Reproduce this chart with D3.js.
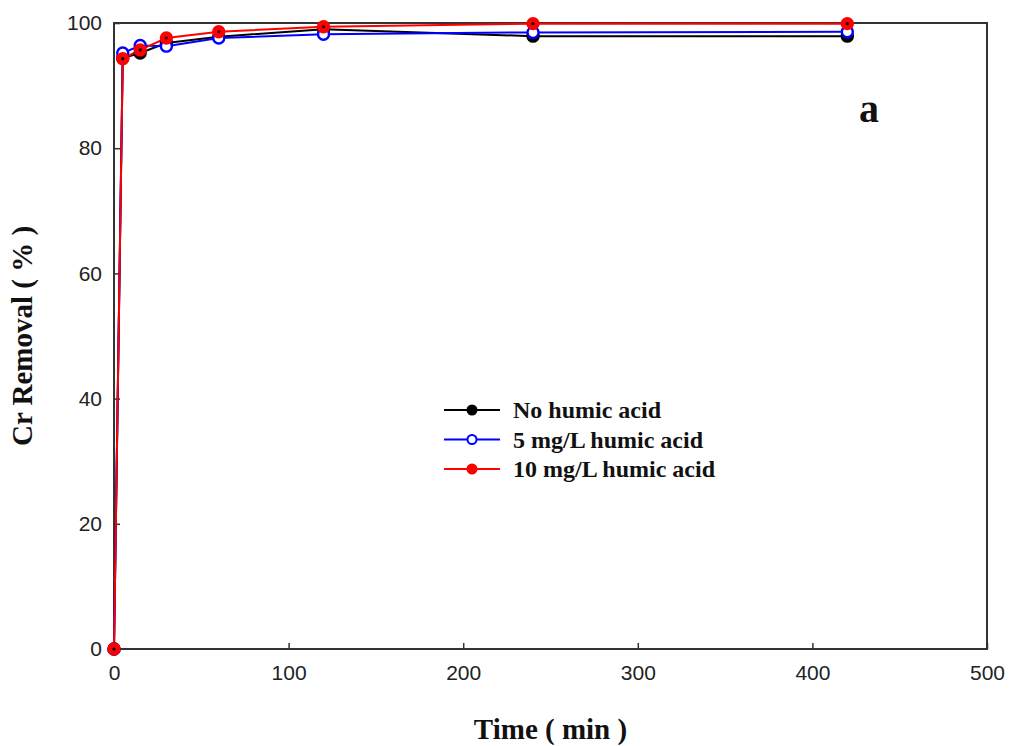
<!DOCTYPE html>
<html>
<head>
<meta charset="utf-8">
<script src="https://cdn.jsdelivr.net/npm/d3@7"></script>
<style>
  body { margin: 0; background: #fff; }
  svg { display: block; }
</style>
</head>
<body>
<div id="chart"></div>
<script>
// sampling times (min)
const times = [0, 5, 15, 30, 60, 120, 240, 420];
// Cr removal (%)
const noHumic = [0, 94.4, 95.2, 96.8, 97.8, 99.0, 97.9, 97.9];
const humic5 = [0, 95.2, 96.4, 96.3, 97.6, 98.2, 98.5, 98.6];
const humic10 = [0, 94.3, 95.7, 97.6, 98.6, 99.4, 99.9, 99.9];
const seriesNames = ['No humic acid', '5 mg/L humic acid', '10 mg/L humic acid'];
const xTicks = [0, 100, 200, 300, 400, 500];
const yTicks = [0, 20, 40, 60, 80, 100];

const W = 1011, H = 746;
const margin = {top: 23, right: 24, bottom: 97, left: 114};
const serif = 'Liberation Serif, Times New Roman, serif';

const svg = d3.select('#chart').append('svg')
    .attr('width', W)
    .attr('height', H);

const x = d3.scaleLinear().domain([0, 500]).range([margin.left, W - margin.right]);
const y = d3.scaleLinear().domain([0, 100]).range([H - margin.bottom, margin.top]);

const series = [
    {name: seriesNames[0], values: noHumic, color: '#000', fill: '#000'},
    {name: seriesNames[1], values: humic5, color: '#0000ff', fill: '#fff'},
    {name: seriesNames[2], values: humic10, color: '#ff0000', fill: '#ff0000'}
];

// axes, ticks pointing inward
svg.append('g')
    .attr('transform', 'translate(0,' + y(0) + ')')
    .call(d3.axisBottom(x).tickValues(xTicks).tickSize(-6).tickPadding(16))
    .call(g => g.select('.domain').remove());
svg.append('g')
    .attr('transform', 'translate(' + x(0) + ',0)')
    .call(d3.axisLeft(y).tickValues(yTicks).tickSize(-6).tickPadding(12))
    .call(g => g.select('.domain').remove());

svg.selectAll('.tick text')
    .attr('font-family', 'Liberation Sans, Arial, sans-serif')
    .attr('font-size', 21)
    .attr('fill', '#222');
svg.selectAll('.tick line')
    .attr('stroke', '#333')
    .attr('stroke-width', 1.5);

// frame
svg.append('rect')
    .attr('x', x(0))
    .attr('y', y(100))
    .attr('width', x(500) - x(0))
    .attr('height', y(0) - y(100))
    .attr('fill', 'none')
    .attr('stroke', '#333')
    .attr('stroke-width', 2);

const line = d3.line()
    .x((d, i) => x(times[i]))
    .y(d => y(d));

series.forEach(s => {
    svg.append('path')
        .datum(s.values)
        .attr('fill', 'none')
        .attr('stroke', s.color)
        .attr('stroke-width', 2)
        .attr('d', line);
});

series.forEach(s => {
    svg.selectAll(null).data(s.values).enter()
        .append('circle')
        .attr('cx', (d, i) => x(times[i]))
        .attr('cy', d => y(d))
        .attr('r', 5.5)
        .attr('fill', s.fill)
        .attr('stroke', s.color)
        .attr('stroke-width', 2.4);
    if (s.fill === '#ff0000') {
        svg.selectAll(null).data(s.values).enter()
            .append('circle')
            .attr('cx', (d, i) => x(times[i]))
            .attr('cy', d => y(d))
            .attr('r', 1.6)
            .attr('fill', '#000');
    }
});

// legend
const legend = svg.append('g').attr('transform', 'translate(444,410)');
series.forEach((s, i) => {
    const g = legend.append('g').attr('transform', 'translate(0,' + i * 29.5 + ')');
    g.append('line')
        .attr('x1', 0).attr('x2', 56)
        .attr('stroke', s.color)
        .attr('stroke-width', 2);
    g.append('circle')
        .attr('cx', 28).attr('r', 4.5)
        .attr('fill', s.fill)
        .attr('stroke', s.color)
        .attr('stroke-width', 2);
    g.append('text')
        .attr('x', 69)
        .attr('dy', '0.35em')
        .attr('font-family', serif)
        .attr('font-weight', 'bold')
        .attr('font-size', 24)
        .attr('fill', '#111')
        .text(s.name);
});

// axis titles
svg.append('text')
    .attr('x', (x(0) + x(500)) / 2)
    .attr('y', 739)
    .attr('text-anchor', 'middle')
    .attr('font-family', serif)
    .attr('font-weight', 'bold')
    .attr('font-size', 29)
    .attr('fill', '#111')
    .text('Time ( min )');

svg.append('text')
    .attr('transform', 'translate(32,' + y(50) + ') rotate(-90)')
    .attr('text-anchor', 'middle')
    .attr('font-family', serif)
    .attr('font-weight', 'bold')
    .attr('font-size', 29)
    .attr('fill', '#111')
    .text('Cr Removal ( % )');

svg.append('text')
    .attr('x', 869)
    .attr('y', 122)
    .attr('text-anchor', 'middle')
    .attr('font-family', serif)
    .attr('font-weight', 'bold')
    .attr('font-size', 40)
    .attr('fill', '#111')
    .text('a');
</script>
</body>
</html>
